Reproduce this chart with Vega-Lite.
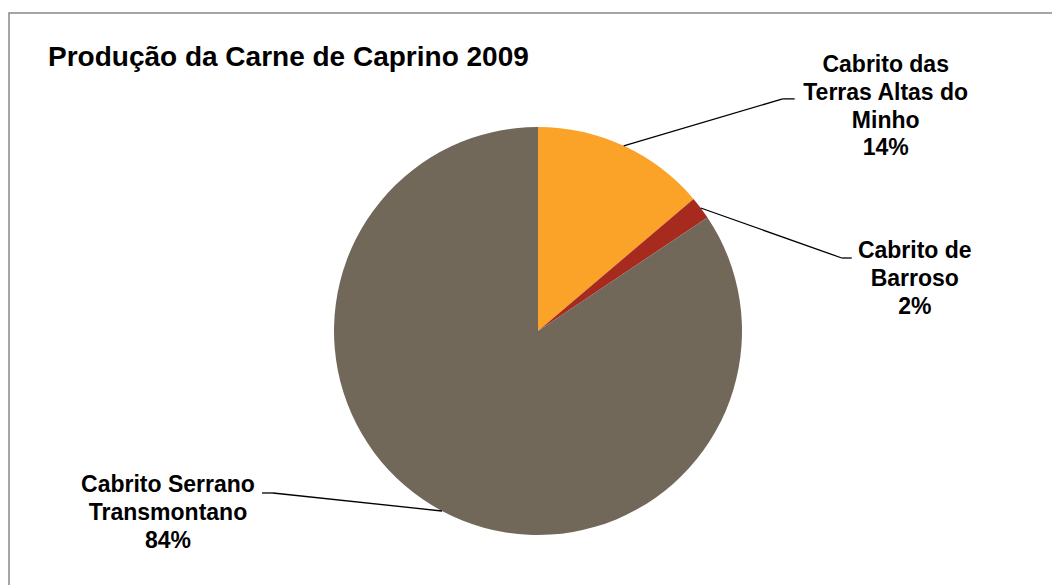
{
  "$schema": "https://vega.github.io/schema/vega-lite/v6.json",
  "autosize": {"type": "none"},
  "width": 1058,
  "height": 636,
  "padding": {"left": 9, "top": 13, "right": -15, "bottom": -64},
  "background": "white",
  "config": {"view": {"stroke": "#888888", "strokeWidth": 1.5}, "font": "Liberation Sans"},
  "title": {
    "text": "Produção da Carne de Caprino 2009",
    "anchor": "start", "frame": "group", "orient": "top", "offset": 0,
    "baseline": "alphabetic", "dx": 39, "dy": 81,
    "fontSize": 28, "fontWeight": "bold", "font": "Liberation Sans", "color": "#000000"
  },
  "data": {"values": [
    {"categoria": "Cabrito das\nTerras Altas do\nMinho", "valor": 13.8},
    {"categoria": "Cabrito de\nBarroso", "valor": 1.8},
    {"categoria": "Cabrito Serrano\nTransmontano", "valor": 84.4}
  ]},
  "transform": [
    {"window": [{"op": "row_number", "as": "ordem"}, {"op": "sum", "field": "valor", "as": "acum"}], "frame": [null, 0]},
    {"joinaggregate": [{"op": "sum", "field": "valor", "as": "total"}]},
    {"calculate": "(datum.acum - datum.valor/2)/datum.total*2*PI", "as": "meio"},
    {"calculate": "204*sin(datum.meio)", "as": "px"},
    {"calculate": "204*cos(datum.meio)", "as": "py"},
    {"calculate": "datum.categoria + '\\n' + format(datum.valor/datum.total, '.0%')", "as": "rotulo"}
  ],
  "layer": [
    {
      "mark": {"type": "arc", "radius": 204},
      "encoding": {
        "theta": {"field": "valor", "type": "quantitative", "stack": true},
        "color": {
          "field": "categoria", "type": "nominal", "legend": null,
          "scale": {
            "domain": ["Cabrito das\nTerras Altas do\nMinho", "Cabrito de\nBarroso", "Cabrito Serrano\nTransmontano"],
            "range": ["#FBA229", "#A72A1F", "#71685A"]
          }
        },
        "order": {"field": "ordem", "type": "quantitative"}
      }
    },
    {
      "encoding": {
        "x": {"field": "px", "type": "quantitative", "axis": null, "scale": {"domain": [-529, 529], "nice": false, "zero": false}},
        "y": {"field": "py", "type": "quantitative", "axis": null, "scale": {"domain": [-318, 318], "nice": false, "zero": false}}
      },
      "layer": [
        {
          "transform": [{"filter": "datum.ordem == 1"}],
          "layer": [
            {"mark": {"type": "rule", "color": "#000000", "strokeWidth": 1.3, "x2Offset": 159, "y2Offset": -47},
             "encoding": {"x2": {"field": "px"}, "y2": {"field": "py"}}},
            {"mark": {"type": "rule", "color": "#000000", "strokeWidth": 1.3, "xOffset": 159, "yOffset": -47, "x2Offset": 171, "y2Offset": -47},
             "encoding": {"x2": {"field": "px"}, "y2": {"field": "py"}}},
            {"mark": {"type": "text", "align": "center", "baseline": "middle", "dx": 262, "dy": -80.5, "lineBreak": "\n", "lineHeight": 27.7, "fontSize": 23, "fontWeight": "bold", "color": "#000000"},
             "encoding": {"text": {"field": "rotulo"}}}
          ]
        },
        {
          "transform": [{"filter": "datum.ordem == 2"}],
          "layer": [
            {"mark": {"type": "rule", "color": "#000000", "strokeWidth": 1.3, "x2Offset": 141, "y2Offset": 50},
             "encoding": {"x2": {"field": "px"}, "y2": {"field": "py"}}},
            {"mark": {"type": "rule", "color": "#000000", "strokeWidth": 1.3, "xOffset": 141, "yOffset": 50, "x2Offset": 151, "y2Offset": 50},
             "encoding": {"x2": {"field": "px"}, "y2": {"field": "py"}}},
            {"mark": {"type": "text", "align": "center", "baseline": "middle", "dx": 214, "dy": 43.3, "lineBreak": "\n", "lineHeight": 27.7, "fontSize": 23, "fontWeight": "bold", "color": "#000000"},
             "encoding": {"text": {"field": "rotulo"}}}
          ]
        },
        {
          "transform": [{"filter": "datum.ordem == 3"}],
          "layer": [
            {"mark": {"type": "rule", "color": "#000000", "strokeWidth": 1.3, "x2Offset": -169, "y2Offset": -18},
             "encoding": {"x2": {"field": "px"}, "y2": {"field": "py"}}},
            {"mark": {"type": "rule", "color": "#000000", "strokeWidth": 1.3, "xOffset": -169, "yOffset": -18, "x2Offset": -180, "y2Offset": -18},
             "encoding": {"x2": {"field": "px"}, "y2": {"field": "py"}}},
            {"mark": {"type": "text", "align": "center", "baseline": "middle", "dx": -274, "dy": -25.7, "lineBreak": "\n", "lineHeight": 27.7, "fontSize": 23, "fontWeight": "bold", "color": "#000000"},
             "encoding": {"text": {"field": "rotulo"}}}
          ]
        }
      ]
    }
  ]
}
